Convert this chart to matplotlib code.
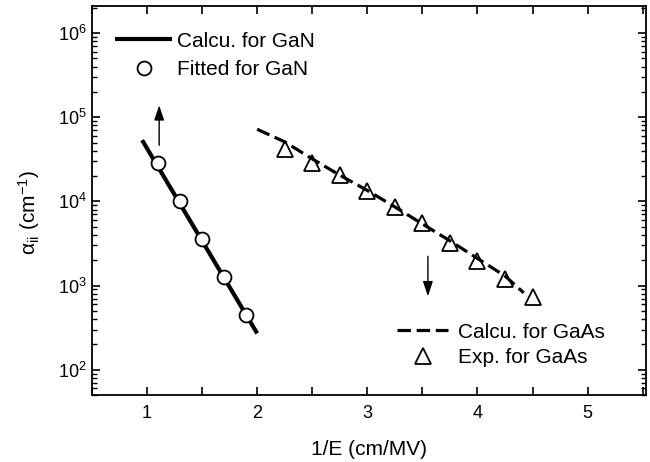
import matplotlib
matplotlib.use("Agg")
import matplotlib.pyplot as plt
from matplotlib.ticker import LogLocator, MultipleLocator, NullFormatter

plt.rcParams['font.family'] = ['Liberation Sans', 'DejaVu Sans']
plt.rcParams['mathtext.fontset'] = 'custom'
plt.rcParams['mathtext.rm'] = 'Liberation Sans'
plt.rcParams['mathtext.it'] = 'Liberation Sans:italic'

# GaN: calculated line and fitted points
gan_calc_x = [0.955, 2.0]
gan_calc_y = [5.35e4, 270]
gan_fit_x = [1.1, 1.3, 1.5, 1.7, 1.9]
gan_fit_y = [2.85e4, 1.0e4, 3.6e3, 1.28e3, 450]

# GaAs: calculated dashed line and experimental points
gaas_calc_x = [2.0, 2.25, 2.5, 2.75, 3.0, 3.25, 3.5, 3.75, 4.0, 4.25, 4.42]
gaas_calc_y = [7.2e4, 5.1e4, 3.2e4, 2.05e4, 1.35e4, 8.6e3, 5.4e3, 3.4e3, 2.1e3, 1.3e3, 820]
gaas_exp_x = [2.25, 2.5, 2.75, 3.0, 3.25, 3.5, 3.75, 4.0, 4.25, 4.5]
gaas_exp_y = [4.2e4, 2.86e4, 2.06e4, 1.33e4, 8.5e3, 5.5e3, 3.2e3, 1.98e3, 1.21e3, 722]

fig = plt.figure(figsize=(6.5, 4.62), dpi=100)
ax = fig.add_axes([0.1415, 0.145, 0.8523, 0.842])

l1, = ax.plot(gan_calc_x, gan_calc_y, color='black', lw=3.0, solid_capstyle='butt',
              label='Calcu. for GaN')
m1, = ax.plot(gan_fit_x, gan_fit_y, ls='none', marker='o', ms=10, mfc='white',
              mec='black', mew=1.3, label='Fitted for GaN')
l2, = ax.plot(gaas_calc_x, gaas_calc_y, color='black', lw=2.3, ls=(0, (4.2, 1.8)),
              label='Calcu. for GaAs')
m2, = ax.plot(gaas_exp_x, gaas_exp_y, ls='none', marker='^', ms=11, mfc='none',
              mec='black', mew=1.3, label='Exp. for GaAs')

ax.annotate('', xy=(1.11, 1.5e5), xytext=(1.11, 4.3e4),
            arrowprops=dict(arrowstyle='-|>,head_length=0.9,head_width=0.3',
                            color='black', lw=1.0))
ax.annotate('', xy=(3.55, 690), xytext=(3.55, 2.4e3),
            arrowprops=dict(arrowstyle='-|>,head_length=0.9,head_width=0.3',
                            color='black', lw=1.0))

ax.set_yscale('log')
ax.set_xlim(0.5, 5.53)
ax.set_ylim(50, 2.1e6)
ax.xaxis.set_major_locator(MultipleLocator(1))
ax.xaxis.set_minor_locator(MultipleLocator(0.5))
ax.yaxis.set_major_locator(LogLocator(base=10, numticks=10))
ax.yaxis.set_minor_locator(LogLocator(base=10, subs=range(2, 10), numticks=10))
ax.yaxis.set_minor_formatter(NullFormatter())
ax.tick_params(which='both', direction='in', top=True, right=True, labelsize=13)
ax.tick_params(which='major', length=6, width=1.2)
ax.tick_params(which='minor', length=3.5, width=1.0)
ax.tick_params(axis='x', which='minor', length=6, width=1.2)
ax.tick_params(axis='x', pad=7)
for s in ax.spines.values():
    s.set_linewidth(1.3)

ax.set_xlabel('1/E (cm/MV)', fontsize=15, labelpad=13)
ax.set_ylabel(r'$\mathregular{\alpha_{ii}}$ (cm$^{\mathregular{-1}}$)', fontsize=15)
ax.yaxis.set_label_coords(-0.09, 0.47)

leg1 = ax.legend(handles=[l1, m1], loc='upper left', bbox_to_anchor=(0.0415, 0.934),
                 frameon=False, fontsize=15, borderpad=0, borderaxespad=0,
                 handlelength=2.74, handletextpad=0.25, labelspacing=0.44)
ax.add_artist(leg1)
ax.legend(handles=[l2, m2], loc='upper left', bbox_to_anchor=(0.551, 0.186),
          frameon=False, fontsize=15, borderpad=0, borderaxespad=0,
          handlelength=2.45, handletextpad=0.48, labelspacing=0.3)

fig.savefig('out.png', dpi=100)
